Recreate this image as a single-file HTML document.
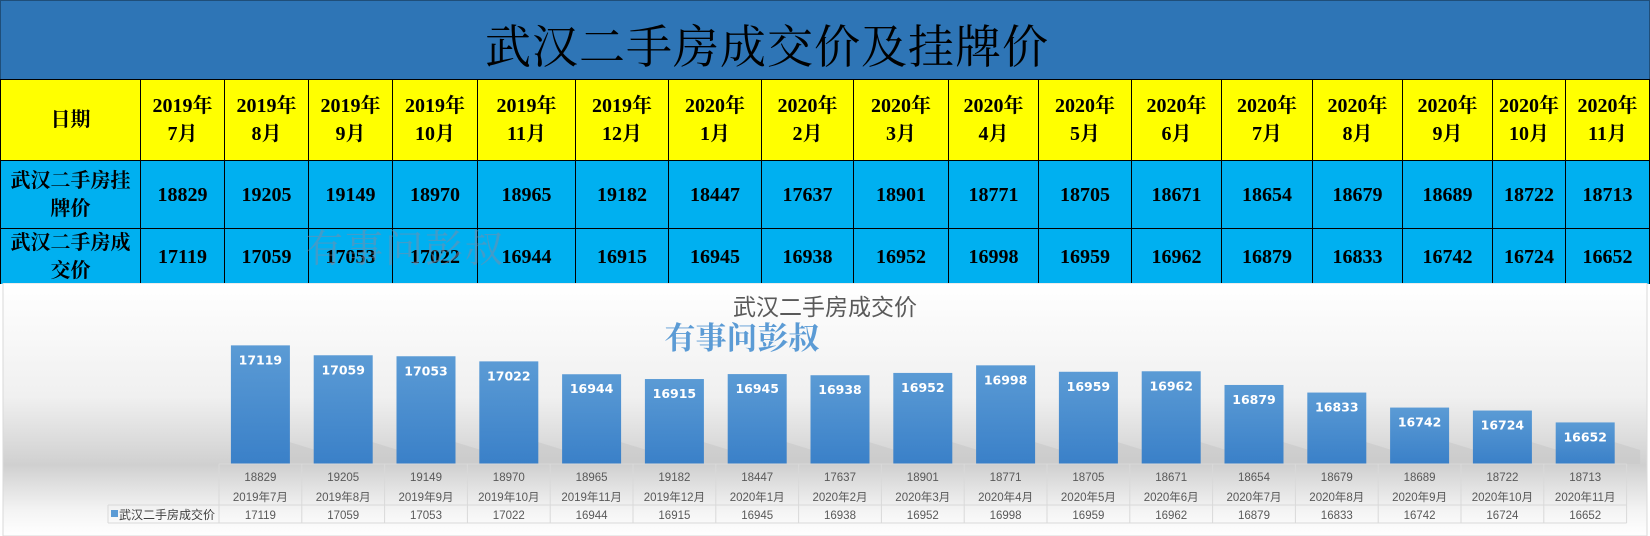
<!DOCTYPE html>
<html><head><meta charset="utf-8"><style>
body{margin:0;width:1650px;height:536px;overflow:hidden;background:#fff;font-family:"Liberation Serif","Noto Serif CJK SC",serif}
#title{position:absolute;left:0;top:0;width:1650px;height:80px;background:#2e75b6;border:1px solid #1f4e79;box-sizing:border-box}
#title span{position:absolute;left:484px;top:10px;font-size:46px;color:#000;font-family:"Noto Serif CJK SC",serif;letter-spacing:1px}
.c{position:absolute;box-sizing:border-box;border-left:1px solid #000;border-top:1px solid #000;display:flex;align-items:center;justify-content:center;text-align:center;font-weight:bold;font-size:20px;line-height:28px;overflow:hidden;font-family:"Liberation Serif","Noto Serif CJK SC",serif}
.h{background:#ffff00}
.d{background:#00b0f0}
.wm1{position:absolute;left:305px;top:218px;font-size:38px;color:rgba(120,140,170,0.55);font-family:"Noto Serif CJK SC",serif;letter-spacing:2px}
#chart{position:absolute;left:0;top:283px}
</style></head><body>
<div id="title"><span>武汉二手房成交价及挂牌价</span></div>
<div id="tbl"></div>
<div class="wm1">有事问彭叔</div>
<svg id="chart" width="1650" height="253">
<defs>
<linearGradient id="bg" x1="0" y1="0" x2="0" y2="1"><stop offset="0" stop-color="#ffffff"/><stop offset="0.45" stop-color="#f0f0f0"/><stop offset="0.72" stop-color="#d0d0d0"/><stop offset="0.9" stop-color="#f4f4f4"/><stop offset="1" stop-color="#ffffff"/></linearGradient>
<linearGradient id="bar" x1="0" y1="0" x2="0" y2="1"><stop offset="0" stop-color="#5b9bd5"/><stop offset="1" stop-color="#3a80c8"/></linearGradient>
</defs>
<rect x="3" y="0" width="1644" height="253" fill="url(#bg)" stroke="#d9d9d9"/>
<text x="825" y="32" text-anchor="middle" font-size="23" fill="#595959" font-family="Liberation Sans, Noto Sans CJK SC, sans-serif">武汉二手房成交价</text>
<text x="742" y="66" text-anchor="middle" font-size="31" font-weight="bold" fill="#5b9bd5" font-family="Noto Serif CJK SC, serif">有事问彭叔</text>
<g id="bars"></g>
<g id="dtable"></g>
</svg>
<script>
const categories=["2019年7月","2019年8月","2019年9月","2019年10月","2019年11月","2019年12月","2020年1月","2020年2月","2020年3月","2020年4月","2020年5月","2020年6月","2020年7月","2020年8月","2020年9月","2020年10月","2020年11月"];
const listPrice=[18829,19205,19149,18970,18965,19182,18447,17637,18901,18771,18705,18671,18654,18679,18689,18722,18713];
const dealPrice=[17119,17059,17053,17022,16944,16915,16945,16938,16952,16998,16959,16962,16879,16833,16742,16724,16652];
const yMin=16400;
const colEdges=[0,140,224,308,392,477,575,668,761,853,948,1038,1131,1221,1312,1402,1492,1565,1650];
const rowEdges=[79,160,228,284];
const tbl=document.getElementById('tbl');
function row(r,cls,first,vals,name){
  [first].concat(vals).forEach((v,i)=>{
    const d=document.createElement('div');d.className='c '+cls;
    d.style.left=colEdges[i]+'px';d.style.width=(colEdges[i+1]-colEdges[i])+'px';
    d.style.top=rowEdges[r]+'px';d.style.height=(rowEdges[r+1]-rowEdges[r])+'px';
    if(i==colEdges.length-2)d.style.borderRight='1px solid #000';
    d.innerHTML=v;
    
    
    tbl.appendChild(d);
  });
}
row(0,'h','日期',categories.map(c=>c.replace('年','年<br>')),'header-row');
row(1,'d','武汉二手房挂<br>牌价',listPrice,'list-price-row');
row(2,'d','武汉二手房成<br>交价',dealPrice,'deal-price-row');
const NS='http://www.w3.org/2000/svg';
const x0=219,cw=82.8,base=181,k=0.165;
const xs=i=>x0+cw*i+cw/2;
const ys=v=>base-(v-yMin)*k;
function el(t,a,p,txt){const e=document.createElementNS(NS,t);for(const q in a)e.setAttribute(q,a[q]);if(txt!=null)e.textContent=txt;p.appendChild(e);return e;}
const gb=document.getElementById('bars'),gt=document.getElementById('dtable');
dealPrice.forEach((v,i)=>{
  const cx=xs(i),y=ys(v);
  const sh=el('polygon',{points:`${cx+29},${base} ${cx+29},${base-22} ${cx+55},${base-14} ${cx+55},${base}`,fill:'#c8c8c8',opacity:0.6},gb);
  
  
  const r=el('rect',{x:cx-29.5,y:y,width:59,height:base-y,fill:'url(#bar)'},gb);
  
  
  const l=el('text',{x:cx,y:y+19,'text-anchor':'middle','font-size':12.5,'font-weight':'bold',fill:'#fff','font-family':'DejaVu Sans, sans-serif'},gb,v);
  
  
});
const tf={'text-anchor':'middle','font-size':11.5,fill:'#595959','font-family':'Liberation Sans, Noto Sans CJK SC, sans-serif'};
const lc='#d9d9d9';
el('line',{x1:x0,y1:base,x2:x0+cw*17,y2:base,stroke:lc},gt);
el('line',{x1:108,y1:222,x2:x0+cw*17,y2:222,stroke:lc},gt);
el('line',{x1:108,y1:240,x2:x0+cw*17,y2:240,stroke:lc},gt);
el('line',{x1:108,y1:222,x2:108,y2:240,stroke:lc},gt);
for(let i=0;i<=17;i++)el('line',{x1:x0+cw*i,y1:base,x2:x0+cw*i,y2:240,stroke:lc},gt);
categories.forEach((c,i)=>{
  const a=el('text',Object.assign({x:xs(i),y:base+17},tf),gt,listPrice[i]);
  
  
  const b=el('text',Object.assign({x:xs(i),y:base+37},tf),gt,c);
  
  
  const d=el('text',Object.assign({x:xs(i),y:236},tf),gt,dealPrice[i]);
  
  
});
const lk=el('rect',{x:111,y:227,width:7,height:7,fill:'#5b9bd5'},gt);


const lt=el('text',{x:119,y:236,'font-size':12,fill:'#404040','font-family':'Liberation Sans, Noto Sans CJK SC, sans-serif'},gt,'武汉二手房成交价');


</script>
</body></html>
